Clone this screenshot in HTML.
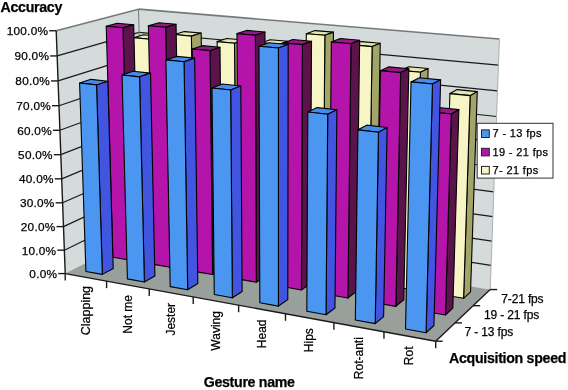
<!DOCTYPE html>
<html><head><meta charset="utf-8"><style>
html,body{margin:0;padding:0;background:#fff;}
svg{display:block;}
.t{font-family:"Liberation Sans",sans-serif;font-size:11.6px;fill:#000;stroke:#000;stroke-width:0.25px;}
.v{font-family:"Liberation Sans",sans-serif;font-size:11.8px;fill:#000;stroke:#000;stroke-width:0.25px;letter-spacing:0.25px;}
.c{font-family:"Liberation Sans",sans-serif;font-size:12px;fill:#000;stroke:#000;stroke-width:0.25px;}
.l{font-family:"Liberation Sans",sans-serif;font-size:11px;fill:#000;stroke:#000;stroke-width:0.25px;letter-spacing:0.36px;}
.b{font-family:"Liberation Sans",sans-serif;font-size:14.2px;font-weight:bold;letter-spacing:-0.3px;fill:#000;stroke:#000;stroke-width:0.25px;}
</style></head><body>
<svg width="568" height="390" viewBox="0 0 568 390">
<polygon points="65.23,273.58 56.21,30.73 138.54,9.17 143.76,233.12" fill="#d5dada" stroke="none" stroke-width="0" stroke-linejoin="round" />
<polygon points="143.76,233.12 490.19,289.56 499.42,39.06 138.54,9.17" fill="#d5dada" stroke="none" stroke-width="0" stroke-linejoin="round" />
<polygon points="65.23,273.58 435.70,341.22 490.19,289.56 143.76,233.12" fill="#99a09b" stroke="none" stroke-width="0" stroke-linejoin="round" />
<line x1="64.36" y1="250.19" x2="143.26" y2="211.47" stroke="#1a1a1a" stroke-width="1.2"/>
<line x1="143.26" y1="211.47" x2="491.07" y2="265.46" stroke="#1a1a1a" stroke-width="1.2"/>
<line x1="63.49" y1="226.60" x2="142.75" y2="189.67" stroke="#1a1a1a" stroke-width="1.2"/>
<line x1="142.75" y1="189.67" x2="491.97" y2="241.15" stroke="#1a1a1a" stroke-width="1.2"/>
<line x1="62.60" y1="202.82" x2="142.24" y2="167.70" stroke="#1a1a1a" stroke-width="1.2"/>
<line x1="142.24" y1="167.70" x2="492.87" y2="216.64" stroke="#1a1a1a" stroke-width="1.2"/>
<line x1="61.71" y1="178.84" x2="141.72" y2="145.57" stroke="#1a1a1a" stroke-width="1.2"/>
<line x1="141.72" y1="145.57" x2="493.78" y2="191.92" stroke="#1a1a1a" stroke-width="1.2"/>
<line x1="60.81" y1="154.67" x2="141.20" y2="123.27" stroke="#1a1a1a" stroke-width="1.2"/>
<line x1="141.20" y1="123.27" x2="494.70" y2="166.99" stroke="#1a1a1a" stroke-width="1.2"/>
<line x1="59.91" y1="130.29" x2="140.68" y2="100.79" stroke="#1a1a1a" stroke-width="1.2"/>
<line x1="140.68" y1="100.79" x2="495.63" y2="141.84" stroke="#1a1a1a" stroke-width="1.2"/>
<line x1="59.00" y1="105.71" x2="140.15" y2="78.15" stroke="#1a1a1a" stroke-width="1.2"/>
<line x1="140.15" y1="78.15" x2="496.57" y2="116.48" stroke="#1a1a1a" stroke-width="1.2"/>
<line x1="58.07" y1="80.93" x2="139.62" y2="55.33" stroke="#1a1a1a" stroke-width="1.2"/>
<line x1="139.62" y1="55.33" x2="497.51" y2="90.90" stroke="#1a1a1a" stroke-width="1.2"/>
<line x1="57.15" y1="55.93" x2="139.08" y2="32.34" stroke="#1a1a1a" stroke-width="1.2"/>
<line x1="139.08" y1="32.34" x2="498.46" y2="65.09" stroke="#1a1a1a" stroke-width="1.2"/>
<line x1="56.21" y1="30.73" x2="138.54" y2="9.17" stroke="#737a7a" stroke-width="1.6"/>
<line x1="138.54" y1="9.17" x2="499.42" y2="39.06" stroke="#737a7a" stroke-width="1.6"/>
<line x1="138.54" y1="9.17" x2="143.76" y2="233.12" stroke="#737a7a" stroke-width="1.0"/>
<line x1="499.42" y1="39.06" x2="490.19" y2="289.56" stroke="#a9b0b0" stroke-width="1.0"/>
<polygon points="133.34,37.67 149.71,39.20 159.79,36.19 143.55,34.69" fill="#e3e8aa" stroke="#000" stroke-width="1.1" stroke-linejoin="round" />
<polygon points="154.19,246.57 149.71,39.20 159.79,36.19 163.87,241.37" fill="#a2a468" stroke="#000" stroke-width="1.1" stroke-linejoin="round" />
<polygon points="138.36,243.92 154.19,246.57 149.71,39.20 133.34,37.67" fill="#f7f5c6" stroke="#000" stroke-width="1.1" stroke-linejoin="round" />
<polygon points="174.51,34.57 191.39,36.10 201.15,33.07 184.40,31.58" fill="#e3e8aa" stroke="#000" stroke-width="1.1" stroke-linejoin="round" />
<polygon points="194.57,253.32 191.39,36.10 201.15,33.07 203.93,247.97" fill="#a2a468" stroke="#000" stroke-width="1.1" stroke-linejoin="round" />
<polygon points="178.28,250.60 194.57,253.32 191.39,36.10 174.51,34.57" fill="#f7f5c6" stroke="#000" stroke-width="1.1" stroke-linejoin="round" />
<polygon points="217.13,41.60 234.51,43.20 243.90,40.04 226.66,38.48" fill="#e3e8aa" stroke="#000" stroke-width="1.1" stroke-linejoin="round" />
<polygon points="236.12,260.26 234.51,43.20 243.90,40.04 245.16,254.76" fill="#a2a468" stroke="#000" stroke-width="1.1" stroke-linejoin="round" />
<polygon points="219.36,257.46 236.12,260.26 234.51,43.20 217.13,41.60" fill="#f7f5c6" stroke="#000" stroke-width="1.1" stroke-linejoin="round" />
<polygon points="260.99,42.91 278.92,44.54 287.92,41.32 270.15,39.73" fill="#e3e8aa" stroke="#000" stroke-width="1.1" stroke-linejoin="round" />
<polygon points="278.92,267.42 278.92,44.54 287.92,41.32 287.59,261.75" fill="#a2a468" stroke="#000" stroke-width="1.1" stroke-linejoin="round" />
<polygon points="261.65,264.53 278.92,267.42 278.92,44.54 260.99,42.91" fill="#f7f5c6" stroke="#000" stroke-width="1.1" stroke-linejoin="round" />
<polygon points="306.30,33.70 324.84,35.30 333.44,32.14 315.07,30.58" fill="#e3e8aa" stroke="#000" stroke-width="1.1" stroke-linejoin="round" />
<polygon points="323.00,274.78 324.84,35.30 333.44,32.14 331.28,268.95" fill="#a2a468" stroke="#000" stroke-width="1.1" stroke-linejoin="round" />
<polygon points="305.21,271.81 323.00,274.78 324.84,35.30 306.30,33.70" fill="#f7f5c6" stroke="#000" stroke-width="1.1" stroke-linejoin="round" />
<polygon points="353.00,44.90 372.10,46.60 380.25,43.25 361.33,41.59" fill="#e3e8aa" stroke="#000" stroke-width="1.1" stroke-linejoin="round" />
<polygon points="368.43,282.37 372.10,46.60 380.25,43.25 376.30,276.36" fill="#a2a468" stroke="#000" stroke-width="1.1" stroke-linejoin="round" />
<polygon points="350.09,279.31 368.43,282.37 372.10,46.60 353.00,44.90" fill="#f7f5c6" stroke="#000" stroke-width="1.1" stroke-linejoin="round" />
<polygon points="400.80,70.36 420.45,72.24 428.10,68.53 408.64,66.69" fill="#e3e8aa" stroke="#000" stroke-width="1.1" stroke-linejoin="round" />
<polygon points="415.27,290.20 420.45,72.24 428.10,68.53 422.70,284.00" fill="#a2a468" stroke="#000" stroke-width="1.1" stroke-linejoin="round" />
<polygon points="396.36,287.04 415.27,290.20 420.45,72.24 400.80,70.36" fill="#f7f5c6" stroke="#000" stroke-width="1.1" stroke-linejoin="round" />
<polygon points="449.89,93.60 470.12,95.66 477.24,91.61 457.21,89.60" fill="#e3e8aa" stroke="#000" stroke-width="1.1" stroke-linejoin="round" />
<polygon points="463.59,298.28 470.12,95.66 477.24,91.61 470.54,291.88" fill="#a2a468" stroke="#000" stroke-width="1.1" stroke-linejoin="round" />
<polygon points="444.08,295.02 463.59,298.28 470.12,95.66 449.89,93.60" fill="#f7f5c6" stroke="#000" stroke-width="1.1" stroke-linejoin="round" />
<polygon points="106.23,26.18 122.98,27.68 133.69,24.71 117.08,23.24" fill="#961888" stroke="#000" stroke-width="1.1" stroke-linejoin="round" />
<polygon points="129.02,260.08 122.98,27.68 133.69,24.71 139.26,254.58" fill="#5a144b" stroke="#000" stroke-width="1.1" stroke-linejoin="round" />
<polygon points="112.88,257.28 129.02,260.08 122.98,27.68 106.23,26.18" fill="#b414aa" stroke="#000" stroke-width="1.1" stroke-linejoin="round" />
<polygon points="148.39,25.76 165.67,27.29 176.04,24.27 158.91,22.77" fill="#961888" stroke="#000" stroke-width="1.1" stroke-linejoin="round" />
<polygon points="170.19,267.22 165.67,27.29 176.04,24.27 180.11,261.57" fill="#5a144b" stroke="#000" stroke-width="1.1" stroke-linejoin="round" />
<polygon points="153.58,264.34 170.19,267.22 165.67,27.29 148.39,25.76" fill="#b414aa" stroke="#000" stroke-width="1.1" stroke-linejoin="round" />
<polygon points="192.27,48.97 210.03,50.66 220.00,47.32 202.39,45.67" fill="#961888" stroke="#000" stroke-width="1.1" stroke-linejoin="round" />
<polygon points="212.61,274.58 210.03,50.66 220.00,47.32 222.18,268.76" fill="#5a144b" stroke="#000" stroke-width="1.1" stroke-linejoin="round" />
<polygon points="195.49,271.61 212.61,274.58 210.03,50.66 192.27,48.97" fill="#b414aa" stroke="#000" stroke-width="1.1" stroke-linejoin="round" />
<polygon points="236.96,33.60 255.36,35.22 264.96,32.01 246.73,30.42" fill="#961888" stroke="#000" stroke-width="1.1" stroke-linejoin="round" />
<polygon points="256.33,282.17 255.36,35.22 264.96,32.01 265.52,276.16" fill="#5a144b" stroke="#000" stroke-width="1.1" stroke-linejoin="round" />
<polygon points="238.68,279.11 256.33,282.17 255.36,35.22 236.96,33.60" fill="#b414aa" stroke="#000" stroke-width="1.1" stroke-linejoin="round" />
<polygon points="283.39,42.90 302.36,44.61 311.52,41.23 292.72,39.56" fill="#961888" stroke="#000" stroke-width="1.1" stroke-linejoin="round" />
<polygon points="301.40,289.99 302.36,44.61 311.52,41.23 310.19,283.80" fill="#5a144b" stroke="#000" stroke-width="1.1" stroke-linejoin="round" />
<polygon points="283.20,286.83 301.40,289.99 302.36,44.61 283.39,42.90" fill="#b414aa" stroke="#000" stroke-width="1.1" stroke-linejoin="round" />
<polygon points="331.34,41.95 350.96,43.68 359.65,40.26 340.22,38.56" fill="#961888" stroke="#000" stroke-width="1.1" stroke-linejoin="round" />
<polygon points="347.89,298.06 350.96,43.68 359.65,40.26 356.25,291.67" fill="#5a144b" stroke="#000" stroke-width="1.1" stroke-linejoin="round" />
<polygon points="329.12,294.80 347.89,298.06 350.96,43.68 331.34,41.95" fill="#b414aa" stroke="#000" stroke-width="1.1" stroke-linejoin="round" />
<polygon points="380.46,70.64 400.66,72.59 408.82,68.74 388.83,66.85" fill="#961888" stroke="#000" stroke-width="1.1" stroke-linejoin="round" />
<polygon points="395.87,306.38 400.66,72.59 408.82,68.74 403.77,299.79" fill="#5a144b" stroke="#000" stroke-width="1.1" stroke-linejoin="round" />
<polygon points="376.49,303.02 395.87,306.38 400.66,72.59 380.46,70.64" fill="#b414aa" stroke="#000" stroke-width="1.1" stroke-linejoin="round" />
<polygon points="430.53,111.83 451.28,114.07 458.86,109.65 438.33,107.46" fill="#961888" stroke="#000" stroke-width="1.1" stroke-linejoin="round" />
<polygon points="445.42,314.98 451.28,114.07 458.86,109.65 452.82,308.17" fill="#5a144b" stroke="#000" stroke-width="1.1" stroke-linejoin="round" />
<polygon points="425.40,311.51 445.42,314.98 451.28,114.07 430.53,111.83" fill="#b414aa" stroke="#000" stroke-width="1.1" stroke-linejoin="round" />
<polygon points="79.59,83.02 96.54,84.91 107.82,81.18 91.00,79.33" fill="#468cf0" stroke="#000" stroke-width="1.1" stroke-linejoin="round" />
<polygon points="102.36,274.39 96.54,84.91 107.82,81.18 113.21,268.56" fill="#4155e1" stroke="#000" stroke-width="1.1" stroke-linejoin="round" />
<polygon points="85.91,271.42 102.36,274.39 96.54,84.91 79.59,83.02" fill="#4b96f0" stroke="#000" stroke-width="1.1" stroke-linejoin="round" />
<polygon points="122.03,74.96 139.56,76.83 150.50,73.13 133.12,71.30" fill="#468cf0" stroke="#000" stroke-width="1.1" stroke-linejoin="round" />
<polygon points="144.36,281.96 139.56,76.83 150.50,73.13 154.88,275.96" fill="#4155e1" stroke="#000" stroke-width="1.1" stroke-linejoin="round" />
<polygon points="127.41,278.90 144.36,281.96 139.56,76.83 122.03,74.96" fill="#4b96f0" stroke="#000" stroke-width="1.1" stroke-linejoin="round" />
<polygon points="165.89,59.90 184.04,61.72 194.64,58.14 176.65,56.37" fill="#468cf0" stroke="#000" stroke-width="1.1" stroke-linejoin="round" />
<polygon points="187.67,289.77 184.04,61.72 194.64,58.14 197.83,283.59" fill="#4155e1" stroke="#000" stroke-width="1.1" stroke-linejoin="round" />
<polygon points="170.19,286.62 187.67,289.77 184.04,61.72 165.89,59.90" fill="#4b96f0" stroke="#000" stroke-width="1.1" stroke-linejoin="round" />
<polygon points="211.98,87.96 230.65,89.99 240.79,86.00 222.29,84.03" fill="#468cf0" stroke="#000" stroke-width="1.1" stroke-linejoin="round" />
<polygon points="232.34,297.83 230.65,89.99 240.79,86.00 242.11,291.45" fill="#4155e1" stroke="#000" stroke-width="1.1" stroke-linejoin="round" />
<polygon points="214.30,294.58 232.34,297.83 230.65,89.99 211.98,87.96" fill="#4b96f0" stroke="#000" stroke-width="1.1" stroke-linejoin="round" />
<polygon points="258.97,46.26 278.42,48.06 288.19,44.52 268.93,42.77" fill="#468cf0" stroke="#000" stroke-width="1.1" stroke-linejoin="round" />
<polygon points="278.44,306.15 278.42,48.06 288.19,44.52 287.79,299.57" fill="#4155e1" stroke="#000" stroke-width="1.1" stroke-linejoin="round" />
<polygon points="259.82,302.79 278.44,306.15 278.42,48.06 258.97,46.26" fill="#4b96f0" stroke="#000" stroke-width="1.1" stroke-linejoin="round" />
<polygon points="307.79,111.98 327.70,114.23 336.89,109.81 317.18,107.62" fill="#468cf0" stroke="#000" stroke-width="1.1" stroke-linejoin="round" />
<polygon points="326.04,314.74 327.70,114.23 336.89,109.81 334.95,307.94" fill="#4155e1" stroke="#000" stroke-width="1.1" stroke-linejoin="round" />
<polygon points="306.82,311.27 326.04,314.74 327.70,114.23 307.79,111.98" fill="#4b96f0" stroke="#000" stroke-width="1.1" stroke-linejoin="round" />
<polygon points="357.90,129.83 378.45,132.24 387.11,127.51 366.77,125.17" fill="#468cf0" stroke="#000" stroke-width="1.1" stroke-linejoin="round" />
<polygon points="375.22,323.61 378.45,132.24 387.11,127.51 383.64,316.58" fill="#4155e1" stroke="#000" stroke-width="1.1" stroke-linejoin="round" />
<polygon points="355.35,320.02 375.22,323.61 378.45,132.24 357.90,129.83" fill="#4b96f0" stroke="#000" stroke-width="1.1" stroke-linejoin="round" />
<polygon points="411.01,81.91 432.48,84.05 440.63,79.85 419.39,77.78" fill="#468cf0" stroke="#000" stroke-width="1.1" stroke-linejoin="round" />
<polygon points="426.05,332.78 432.48,84.05 440.63,79.85 433.95,325.52" fill="#4155e1" stroke="#000" stroke-width="1.1" stroke-linejoin="round" />
<polygon points="405.51,329.07 426.05,332.78 432.48,84.05 411.01,81.91" fill="#4b96f0" stroke="#000" stroke-width="1.1" stroke-linejoin="round" />
<line x1="65.23" y1="273.58" x2="56.21" y2="30.73" stroke="#1a1a1a" stroke-width="1.4"/>
<line x1="65.23" y1="273.58" x2="435.70" y2="341.22" stroke="#1a1a1a" stroke-width="1.4"/>
<line x1="435.70" y1="341.22" x2="490.19" y2="289.56" stroke="#1a1a1a" stroke-width="1.4"/>
<g style="will-change:transform"><line x1="58.23" y1="273.58" x2="65.23" y2="273.58" stroke="#1a1a1a" stroke-width="1.4"/>
<text x="57.23" y="277.98" text-anchor="end" class="v">0.0%</text>
<line x1="57.36" y1="250.19" x2="64.36" y2="250.19" stroke="#1a1a1a" stroke-width="1.4"/>
<text x="56.36" y="254.59" text-anchor="end" class="v">10.0%</text>
<line x1="56.49" y1="226.60" x2="63.49" y2="226.60" stroke="#1a1a1a" stroke-width="1.4"/>
<text x="55.49" y="231.00" text-anchor="end" class="v">20.0%</text>
<line x1="55.60" y1="202.82" x2="62.60" y2="202.82" stroke="#1a1a1a" stroke-width="1.4"/>
<text x="54.60" y="207.22" text-anchor="end" class="v">30.0%</text>
<line x1="54.71" y1="178.84" x2="61.71" y2="178.84" stroke="#1a1a1a" stroke-width="1.4"/>
<text x="53.71" y="183.24" text-anchor="end" class="v">40.0%</text>
<line x1="53.81" y1="154.67" x2="60.81" y2="154.67" stroke="#1a1a1a" stroke-width="1.4"/>
<text x="52.81" y="159.07" text-anchor="end" class="v">50.0%</text>
<line x1="52.91" y1="130.29" x2="59.91" y2="130.29" stroke="#1a1a1a" stroke-width="1.4"/>
<text x="51.91" y="134.69" text-anchor="end" class="v">60.0%</text>
<line x1="52.00" y1="105.71" x2="59.00" y2="105.71" stroke="#1a1a1a" stroke-width="1.4"/>
<text x="51.00" y="110.11" text-anchor="end" class="v">70.0%</text>
<line x1="51.07" y1="80.93" x2="58.07" y2="80.93" stroke="#1a1a1a" stroke-width="1.4"/>
<text x="50.07" y="85.33" text-anchor="end" class="v">80.0%</text>
<line x1="50.15" y1="55.93" x2="57.15" y2="55.93" stroke="#1a1a1a" stroke-width="1.4"/>
<text x="49.15" y="60.33" text-anchor="end" class="v">90.0%</text>
<line x1="49.21" y1="30.73" x2="56.21" y2="30.73" stroke="#1a1a1a" stroke-width="1.4"/>
<text x="48.21" y="35.13" text-anchor="end" class="v">100.0%</text>
<line x1="65.23" y1="273.58" x2="65.23" y2="280.58" stroke="#1a1a1a" stroke-width="1.4"/>
<line x1="106.60" y1="281.13" x2="106.60" y2="288.13" stroke="#1a1a1a" stroke-width="1.4"/>
<line x1="149.24" y1="288.92" x2="149.24" y2="295.92" stroke="#1a1a1a" stroke-width="1.4"/>
<line x1="193.23" y1="296.95" x2="193.23" y2="303.95" stroke="#1a1a1a" stroke-width="1.4"/>
<line x1="238.62" y1="305.24" x2="238.62" y2="312.24" stroke="#1a1a1a" stroke-width="1.4"/>
<line x1="285.49" y1="313.79" x2="285.49" y2="320.79" stroke="#1a1a1a" stroke-width="1.4"/>
<line x1="333.90" y1="322.63" x2="333.90" y2="329.63" stroke="#1a1a1a" stroke-width="1.4"/>
<line x1="383.95" y1="331.77" x2="383.95" y2="338.77" stroke="#1a1a1a" stroke-width="1.4"/>
<line x1="435.70" y1="341.22" x2="435.70" y2="348.22" stroke="#1a1a1a" stroke-width="1.4"/>
<text transform="translate(90.03,285.93) rotate(-90)" text-anchor="end" class="c" style="font-size:12.5px">Clapping</text>
<text transform="translate(132.05,295.00) rotate(-90)" text-anchor="end" class="c" style="font-size:12px">Not me</text>
<text transform="translate(175.36,302.90) rotate(-90)" text-anchor="end" class="c" style="font-size:12px">Jester</text>
<text transform="translate(219.64,311.06) rotate(-90)" text-anchor="end" class="c" style="font-size:12px">Waving</text>
<text transform="translate(266.16,319.48) rotate(-90)" text-anchor="end" class="c" style="font-size:12px">Head</text>
<text transform="translate(312.79,328.18) rotate(-90)" text-anchor="end" class="c" style="font-size:12px">Hips</text>
<text transform="translate(363.01,337.16) rotate(-90)" text-anchor="end" class="c" style="font-size:12px">Rot-anti</text>
<text transform="translate(412.90,346.45) rotate(-90)" text-anchor="end" class="c" style="font-size:12px">Rot</text>
<line x1="435.70" y1="341.22" x2="442.70" y2="341.22" stroke="#1a1a1a" stroke-width="1.4"/>
<line x1="455.03" y1="322.88" x2="462.03" y2="322.88" stroke="#1a1a1a" stroke-width="1.4"/>
<line x1="473.16" y1="305.70" x2="480.16" y2="305.70" stroke="#1a1a1a" stroke-width="1.4"/>
<line x1="490.19" y1="289.56" x2="497.19" y2="289.56" stroke="#1a1a1a" stroke-width="1.4"/>
<text x="464.6" y="336.40000000000003" class="t" style="font-size:12px;letter-spacing:-0.15px">7 - 13 fps</text>
<text x="484.0" y="318.8" class="t" style="font-size:12px;letter-spacing:-0.15px">19 - 21 fps</text>
<text x="501.3" y="302.90000000000003" class="t" style="font-size:12px;letter-spacing:-0.15px">7-21 fps</text>
<text x="0.5" y="12.4" class="b">Accuracy</text>
<text x="203.7" y="386.8" class="b">Gesture name</text>
<text x="449" y="363.3" class="b">Acquisition speed</text>
<rect x="477.2" y="123.3" width="75.8" height="54.8" fill="#fff" stroke="#333" stroke-width="1"/>
<rect x="481.5" y="129.9" width="7.8" height="7.6" fill="#4b96f0" stroke="#222" stroke-width="1"/>
<text x="492.5" y="137.2" class="l">7 - 13 fps</text>
<rect x="481.5" y="148.3" width="7.8" height="7.6" fill="#b414aa" stroke="#222" stroke-width="1"/>
<text x="492.5" y="155.6" class="l">19 - 21 fps</text>
<rect x="481.5" y="166.4" width="7.8" height="7.6" fill="#f7f5c6" stroke="#222" stroke-width="1"/>
<text x="492.5" y="173.7" class="l">7- 21 fps</text></g>
</svg>
</body></html>
